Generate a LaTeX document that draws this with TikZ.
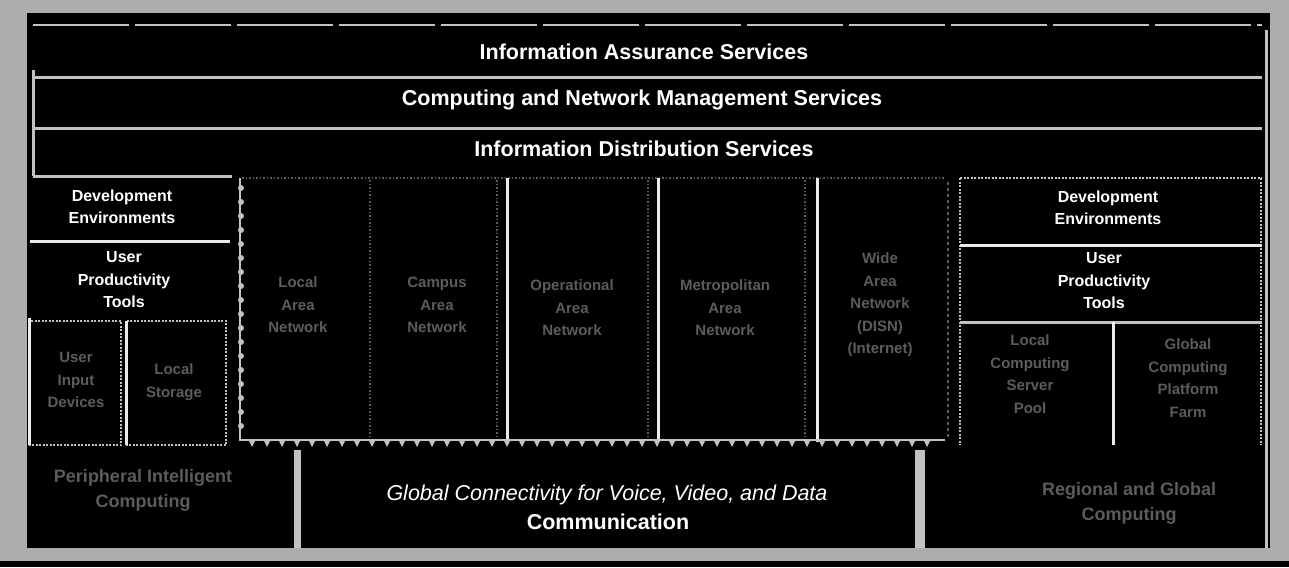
\documentclass[tikz,border=0pt]{standalone}
\usepackage{fontspec}
\setmainfont{Liberation Sans}
\definecolor{bg}{gray}{0.68}
\definecolor{ln}{gray}{0.76}
\definecolor{ghost}{gray}{0.36}
\begin{document}
\begin{tikzpicture}[x=1pt,y=-1pt,
  lbl/.style={text=white,font=\bfseries\fontsize{21.5}{24}\selectfont,inner sep=0pt},
  sm/.style={text=white,font=\bfseries\fontsize{16}{22.5}\selectfont,align=center,inner sep=0pt},
  gh/.style={text=ghost,font=\bfseries\fontsize{15}{22.5}\selectfont,align=center,inner sep=0pt},
  ghb/.style={text=ghost,font=\bfseries\fontsize{18}{25}\selectfont,align=center,inner sep=0pt},
  sep/.style={draw=ln,line width=3pt},
  wsep/.style={draw=white!92!black,line width=3pt},
  dsep/.style={draw=ln,line width=2pt,dash pattern=on 2pt off 1.5pt},
  fsep/.style={draw=ghost,line width=1.5pt,dash pattern=on 1.5pt off 2pt},
]
\useasboundingbox (0,0) rectangle (1289,567);
% background and frame
\fill[bg] (0,0) rectangle (1289,567);
\fill[black] (27,13) rectangle (1270,548);
\fill[black] (0,561) rectangle (1289,567);

% top bands
\draw[ln,line width=2.5pt,dash pattern=on 96pt off 6pt] (33,25) -- (1262,25);
\draw[sep] (33,78) -- (1262,78);
\draw[sep] (33,128) -- (1262,128);
\draw[sep] (33,70) -- (33,176);
\draw[sep] (1266,30) -- (1266,548);
\node[lbl] (ias) at (644,52) {Information Assurance Services};
\node[lbl] (cnms) at (642,100) {Computing and Network Management Services};
\node[lbl] (ids) at (644,149) {Information Distribution Services};

% left column
\draw[sep] (33,176) -- (232,176);
\draw[wsep] (30,241) -- (230,241);
\node[sm] (ldev) at (122,207) {Development\\Environments};
\node[sm] (lupt) at (124,280) {User\\Productivity\\Tools};
\draw[dsep] (30,321) rectangle (121,445);
\draw[dsep] (127,321) rectangle (226,445);
\draw[wsep] (29,318) -- (29,445);
\draw[wsep] (126,321) -- (126,445);
\node[gh] (lb1) at (76,380) {User\\Input\\Devices};
\node[gh] (lb2) at (174,382) {Local\\Storage};

% central network area
\draw[fsep] (242,178) -- (945,178);
\draw[fsep] (370,180) -- (370,440);
\draw[fsep] (497,180) -- (497,440);
\draw[fsep] (648,180) -- (648,440);
\draw[fsep] (805,180) -- (805,440);
\draw[wsep] (507,178) -- (507,442);
\draw[wsep] (658,178) -- (658,442);
\draw[wsep] (817,178) -- (817,442);
\draw[draw=ln,line width=1.5pt] (240,178) -- (240,440) -- (945,440);
\foreach \yy in {188,202,...,436} { \fill[ln] (241,\yy) circle (3pt); }
\foreach \xx in {252,267,...,940} { \fill[ln] (\xx-4,439) -- (\xx+4,439) -- (\xx,447) -- cycle; }
\draw[draw=ghost,line width=2pt,dash pattern=on 3pt off 3pt] (948,182) -- (948,438);
\node[gh] (lan) at (298,305) {Local\\Area\\Network};
\node[gh] (can) at (437,305) {Campus\\Area\\Network};
\node[gh] (oan) at (572,308) {Operational\\Area\\Network};
\node[gh] (man) at (725,308) {Metropolitan\\Area\\Network};
\node[gh] (wan) at (880,305) {Wide\\Area\\Network\\(DISN)\\(Internet)};

% right column
\draw[dsep] (960,178) -- (1262,178);
\draw[dsep] (960,178) -- (960,445);
\draw[dsep] (1261,178) -- (1261,445);
\draw[wsep] (960,245) -- (1262,245);
\draw[sep] (960,322) -- (1262,322);
\draw[wsep] (1113,322) -- (1113,445);
\node[sm] (rdev) at (1108,208) {Development\\Environments};
\node[sm] (rupt) at (1104,281) {User\\Productivity\\Tools};
\node[gh] (rb1) at (1030,374) {Local\\Computing\\Server\\Pool};
\node[gh] (rb2) at (1188,378) {Global\\Computing\\Platform\\Farm};

% bottom row
\fill[ln] (294,450) rectangle (301,548);
\fill[ln] (915,450) rectangle (925,548);
\fill[bg] (0,548) rectangle (1289,557);
\node[ghb] (pic) at (143,490) {Peripheral Intelligent\\Computing};
\node[text=white,font=\itshape\fontsize{21.5}{24}\selectfont,inner sep=0pt] (glob) at (607,495) {Global Connectivity for Voice, Video, and Data};
\node[lbl] (comm) at (608,522) {Communication};
\node[ghb] (rgc) at (1129,503) {Regional and Global\\Computing};
\end{tikzpicture}
\end{document}
